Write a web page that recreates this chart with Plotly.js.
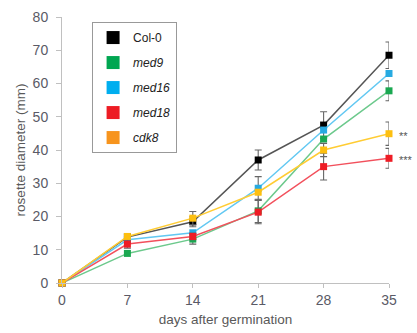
<!DOCTYPE html>
<html>
<head>
<meta charset="utf-8">
<script src="https://cdn.plot.ly/plotly-3.0.1.min.js"></script>
<style>html,body{margin:0;padding:0;background:#fff}#chart{width:417px;height:333px}</style>
</head>
<body>
<div id="chart"></div>
<script>
var days = [0, 7, 14, 21, 28, 35];
var seriesNames = ['Col-0', '<i>med9</i>', '<i>med16</i>', '<i>med18</i>', '<i>cdk8</i>'];
var col0  = [0, 13.8, 18.4, 37.0, 47.5, 68.5];
var med9  = [0, 8.9, 13.2, 21.7, 43.3, 57.8];
var med16 = [0, 13.0, 15.1, 28.5, 46.0, 63.0];
var med18 = [0, 11.7, 14.0, 21.3, 35.0, 37.5];
var cdk8  = [0, 14.0, 19.5, 27.3, 40.0, 44.9];
var col0Err  = [null, 1.0, 1.5, 3.0, 4.0, 4.0];
var med9Err  = [null, null, 1.5, 3.5, null, 3.0];
var med16Err = [null, null, null, 3.5, null, null];
var med18Err = [null, 1.2, 1.0, 3.5, 4.0, 3.0];
var cdk8Err  = [null, null, 2.0, null, 2.0, 3.5];
var xTicks = [0, 7, 14, 21, 28, 35];
var yTicks = [0, 10, 20, 30, 40, 50, 60, 70, 80];
var sigLabels = ['**', '***'];

var values = [col0, med9, med16, med18, cdk8];
var errs = [col0Err, med9Err, med16Err, med18Err, cdk8Err];
var lineColors = ['#555555', '#6cc98c', '#62c8f2', '#f2505c', '#ffcc33'];
var markerColors = ['#000000', '#1aa851', '#27aae1', '#ee1c25', '#fdbf10'];
var legendColors = ['#000000', '#00a651', '#00aeef', '#ed1c24', '#f7941d'];

var traces = [];
for (var i = 0; i < values.length; i++) {
  traces.push({
    x: days, y: values[i], type: 'scatter', mode: 'lines+markers',
    showlegend: false, cliponaxis: false,
    line: {color: lineColors[i], width: 1.5},
    marker: {symbol: 'square', size: 7, color: markerColors[i]},
    error_y: {type: 'data', array: errs[i].map(function(v){ return v === null ? NaN : v; }),
              visible: true, color: '#666666', thickness: 1.1, width: 3.5}
  });
}
for (var j = 0; j < values.length; j++) {
  traces.push({
    x: [null], y: [null], type: 'scatter', mode: 'markers', name: seriesNames[j],
    legendgroup: 'g' + j,
    marker: {symbol: 'square', size: 13, color: legendColors[j]}
  });
}

var layout = {
  width: 417, height: 333,
  margin: {l: 62, r: 28, t: 17, b: 50},
  paper_bgcolor: '#ffffff', plot_bgcolor: '#ffffff',
  font: {family: 'Liberation Sans, Arial, sans-serif', color: '#595959', size: 13},
  xaxis: {
    range: [0, 35], tickvals: xTicks, ticktext: xTicks.map(String),
    showgrid: false, zeroline: false, showline: true, linecolor: '#c0c0c0', linewidth: 1,
    ticks: 'outside', ticklen: 4, tickcolor: '#c0c0c0',
    tickfont: {size: 14, color: '#5a5a66'},
    title: {text: 'days after germination', font: {size: 13.5, color: '#595959'}, standoff: 7}
  },
  yaxis: {
    range: [0, 80], tickvals: yTicks, ticktext: yTicks.map(String),
    showgrid: false, zeroline: false, showline: true, linecolor: '#c0c0c0', linewidth: 1,
    ticks: 'outside', ticklen: 5, tickcolor: '#c0c0c0', ticklabelstandoff: 5,
    tickfont: {size: 14, color: '#5a5a66'},
    title: {text: 'rosette diameter (mm)', font: {size: 13.5, color: '#595959'}, standoff: 3}
  },
  legend: {
    x: 0.092, y: 0.981, xanchor: 'left', yanchor: 'top',
    bgcolor: '#ffffff', bordercolor: '#999999', borderwidth: 1,
    font: {size: 12, color: '#222222'}, tracegroupgap: 6, traceorder: 'grouped',
    entrywidth: 72
  },
  annotations: [
    {x: 35, y: cdk8[5], xref: 'x', yref: 'y', text: sigLabels[0], showarrow: false,
     xanchor: 'left', xshift: 8, yshift: -2, font: {size: 11, color: '#555555'}},
    {x: 35, y: med18[5], xref: 'x', yref: 'y', text: sigLabels[1], showarrow: false,
     xanchor: 'left', xshift: 8, yshift: -2, font: {size: 11, color: '#555555'}}
  ]
};

Plotly.newPlot('chart', traces, layout, {displayModeBar: false, staticPlot: true});
</script>
</body>
</html>
